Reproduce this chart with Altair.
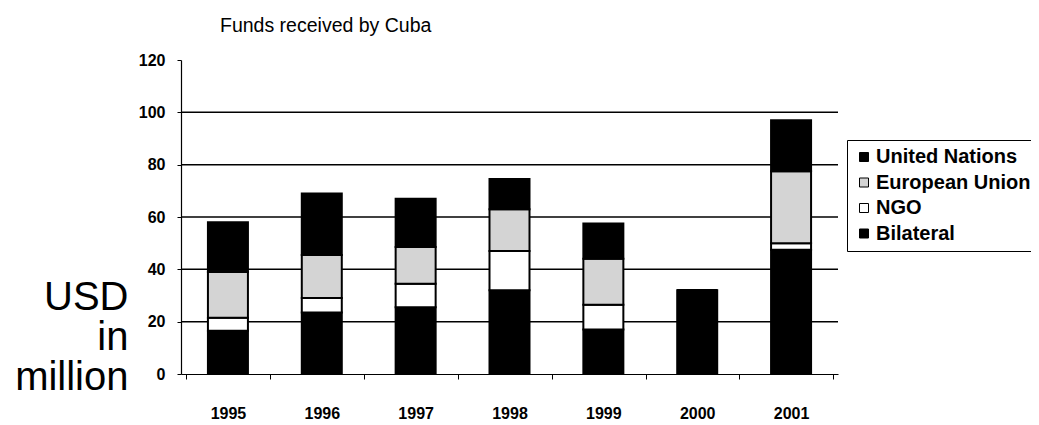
import altair as alt
import pandas as pd

years = ["1995", "1996", "1997", "1998", "1999", "2000", "2001"]
bilateral = [16.5, 23.5, 25.5, 32.0, 17.0, 32.0, 47.5]
ngo = [5.0, 5.5, 9.0, 15.0, 9.5, 0.0, 2.5]
eu = [17.5, 16.5, 14.0, 16.0, 17.5, 0.0, 27.5]
un = [19.0, 23.5, 18.5, 11.5, 13.5, 0.0, 19.5]

series_names = ["United Nations", "European Union", "NGO", "Bilateral"]
series_colors = ["#000000", "#d4d4d4", "#ffffff", "#000000"]
stack_rank = {"Bilateral": 0, "NGO": 1, "European Union": 2, "United Nations": 3}
grid_values = [20, 40, 60, 80, 100]
y_ticks = [0, 20, 40, 60, 80, 100, 120]

rows = []
for i, y in enumerate(years):
    for name, vals in [("Bilateral", bilateral), ("NGO", ngo),
                       ("European Union", eu), ("United Nations", un)]:
        rows.append({"year": y, "source": name, "value": vals[i],
                     "rank": stack_rank[name]})
df = pd.DataFrame(rows)
grid_df = pd.DataFrame({"value": grid_values})

FONT = "Liberation Sans"

y_scale = alt.Scale(domain=[0, 120])
y_axis = alt.Axis(values=y_ticks, grid=False,
                  title=["USD", "in", "million"], titleAngle=0,
                  titleAlign="right", titleBaseline="alphabetic",
                  titleX=-53, titleY=249, titleFont=FONT,
                  titleFontSize=40, titleFontWeight="normal",
                  titleLineHeight=40, titleColor="black",
                  labelFont=FONT, labelFontSize=16,
                  labelFontWeight="bold", labelColor="black",
                  labelPadding=12, tickSize=4, tickColor="black",
                  domainColor="black", domainWidth=1.2)

grid = alt.Chart(grid_df).mark_rule(color="black", strokeWidth=1.5).encode(
    y=alt.Y("value:Q", scale=y_scale, axis=y_axis)
)

bars = alt.Chart(df).mark_bar(size=40, stroke="black", strokeWidth=2).encode(
    x=alt.X("year:N", sort=years,
            axis=alt.Axis(title=None, labelAngle=0, labelFont=FONT,
                          labelFontSize=16, labelFontWeight="bold",
                          labelColor="black", labelPadding=26,
                          tickBand="extent", tickSize=5, tickColor="black",
                          domainColor="black", domainWidth=1.2)),
    y=alt.Y("value:Q", stack="zero", scale=y_scale, axis=y_axis),
    color=alt.Color("source:N",
                    scale=alt.Scale(domain=series_names, range=series_colors),
                    legend=alt.Legend(title=None, orient="none",
                                      legendX=666, legendY=80,
                                      symbolType="square", symbolSize=81,
                                      symbolStrokeColor="black",
                                      symbolStrokeWidth=1,
                                      labelFont=FONT, labelFontSize=20,
                                      labelFontWeight="bold",
                                      labelColor="black", labelOffset=2,
                                      rowPadding=5.5, padding=7,
                                      strokeColor="black",
                                      fillColor="white")),
    order=alt.Order("rank:Q", sort="ascending"),
)

chart = (grid + bars).properties(
    width=657, height=314,
    title=alt.TitleParams("Funds received by Cuba", anchor="start", dx=39,
                          frame="group",
                          font=FONT, fontSize=19.5, fontWeight="normal",
                          color="black", offset=16),
    autosize=alt.AutoSizeParams(type="none"),
    padding={"left": 173, "top": 52, "right": 193, "bottom": 48},
).configure(background="white").configure_view(stroke=None)

chart.save("out.html", embed_options={"renderer": "svg", "actions": False})

with open("out.html", "r", encoding="utf-8") as f:
    html = f.read()
html = html.replace("<head>", "<head><style>html,body{overflow:hidden}</style>", 1)
with open("out.html", "w", encoding="utf-8") as f:
    f.write(html)
